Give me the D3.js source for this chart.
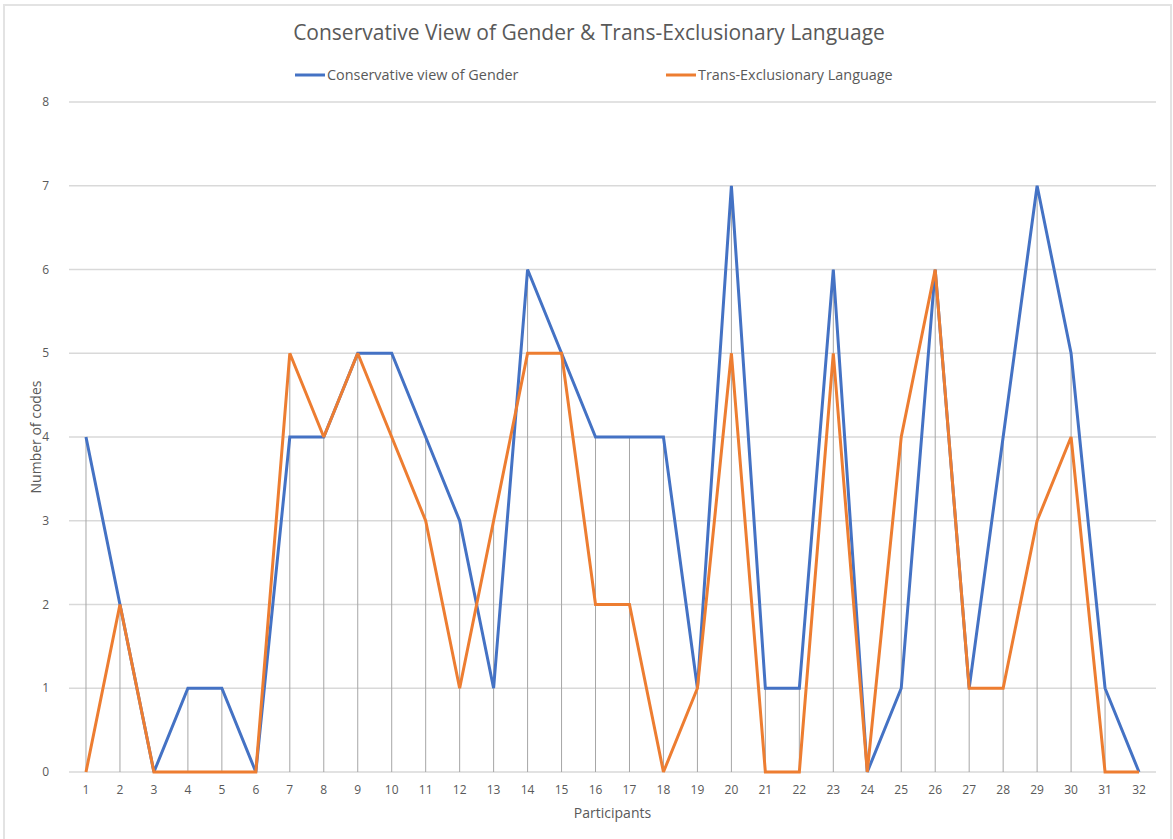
<!DOCTYPE html>
<meta charset="utf-8">
<style>
  body { margin: 0; background: #fff; }
  text { font-family: "Open Sans", "Liberation Sans", sans-serif; fill: #595959; }
</style>
<body>
<div id="chart"></div>
<script src="https://d3js.org/d3.v7.min.js"></script>
<script>

// data
var participants = d3.range(1, 33);
var conservativeView = [4, 2, 0, 1, 1, 0, 4, 4, 5, 5, 4, 3, 1, 6, 5, 4, 4, 4, 1, 7, 1, 1, 6, 0, 1, 6, 1, 4, 7, 5, 1, 0];
var transExclusionary = [0, 2, 0, 0, 0, 0, 5, 4, 5, 4, 3, 1, 3, 5, 5, 2, 2, 0, 1, 5, 0, 0, 5, 0, 4, 6, 1, 1, 3, 4, 0, 0];
var yTicks = [0, 1, 2, 3, 4, 5, 6, 7, 8];

var seriesNames = ["Conservative view of Gender", "Trans-Exclusionary Language"];
var colors = ["#4472c4", "#ed7d31"];

var W = 1173, H = 839;
var margin = {top: 102, right: 17, bottom: 67, left: 69},
    width = W - margin.left - margin.right,
    height = H - margin.top - margin.bottom;

var svg = d3.select("#chart").append("svg")
    .attr("width", W)
    .attr("height", H);

// chart frame
svg.append("rect")
    .attr("x", 4).attr("y", 5)
    .attr("width", W - 6).attr("height", H + 10)
    .attr("fill", "none")
    .attr("stroke", "#e3e3e3")
    .attr("stroke-width", 2);

var g = svg.append("g")
    .attr("transform", "translate(" + margin.left + "," + margin.top + ")");

var x = d3.scalePoint().domain(participants).range([0, width]).padding(0.5);
var y = d3.scaleLinear().domain([0, 8]).range([height, 0]);

// horizontal gridlines
g.selectAll(".grid")
    .data(yTicks)
  .enter().append("line")
    .attr("x1", 0).attr("x2", width)
    .attr("y1", function(d) { return y(d); })
    .attr("y2", function(d) { return y(d); })
    .attr("stroke", "#d9d9d9")
    .attr("stroke-width", 1.3);

// drop lines
g.selectAll(".drop")
    .data(participants)
  .enter().append("line")
    .attr("x1", function(d) { return x(d); })
    .attr("x2", function(d) { return x(d); })
    .attr("y1", height)
    .attr("y2", function(d, i) { return y(Math.max(conservativeView[i], transExclusionary[i])); })
    .attr("stroke", "#a6a6a6")
    .attr("stroke-width", 1);

// y tick labels
g.selectAll(".ylab")
    .data(yTicks)
  .enter().append("text")
    .attr("x", -20)
    .attr("y", function(d) { return y(d); })
    .attr("dy", "0.35em")
    .attr("text-anchor", "end")
    .attr("font-size", "12px")
    .text(function(d) { return d; });

// x tick labels
g.selectAll(".xlab")
    .data(participants)
  .enter().append("text")
    .attr("x", function(d) { return x(d); })
    .attr("y", height + 18)
    .attr("dy", "0.35em")
    .attr("text-anchor", "middle")
    .attr("font-size", "12px")
    .text(function(d) { return d; });

// lines
var line = d3.line()
    .x(function(d, i) { return x(participants[i]); })
    .y(function(d) { return y(d); });

[conservativeView, transExclusionary].forEach(function(s, k) {
  g.append("path")
      .datum(s)
      .attr("fill", "none")
      .attr("stroke", colors[k])
      .attr("stroke-width", 3)
      .attr("stroke-linejoin", "miter")
      .attr("stroke-miterlimit", 2)
      .attr("d", line);
});

// axis titles
svg.append("text")
    .attr("x", margin.left + width / 2)
    .attr("y", 813)
    .attr("dy", "0.35em")
    .attr("text-anchor", "middle")
    .attr("font-size", "14px")
    .text("Participants");

svg.append("text")
    .attr("transform", "translate(36," + (margin.top + height / 2) + ") rotate(-90)")
    .attr("dy", "0.35em")
    .attr("text-anchor", "middle")
    .attr("font-size", "14px")
    .text("Number of codes");

// title
svg.append("text")
    .attr("x", 589)
    .attr("y", 33)
    .attr("dy", "0.35em")
    .attr("text-anchor", "middle")
    .attr("font-size", "21px")
    .text("Conservative View of Gender & Trans-Exclusionary Language");

// legend
var legendX = [295, 666];
seriesNames.forEach(function(name, k) {
  svg.append("line")
      .attr("x1", legendX[k]).attr("x2", legendX[k] + 30)
      .attr("y1", 75).attr("y2", 75)
      .attr("stroke", colors[k])
      .attr("stroke-width", 3);
  svg.append("text")
      .attr("x", legendX[k] + 32)
      .attr("y", 75)
      .attr("dy", "0.35em")
      .attr("font-size", "14.4px")
      .text(name);
});

</script>
</body>
